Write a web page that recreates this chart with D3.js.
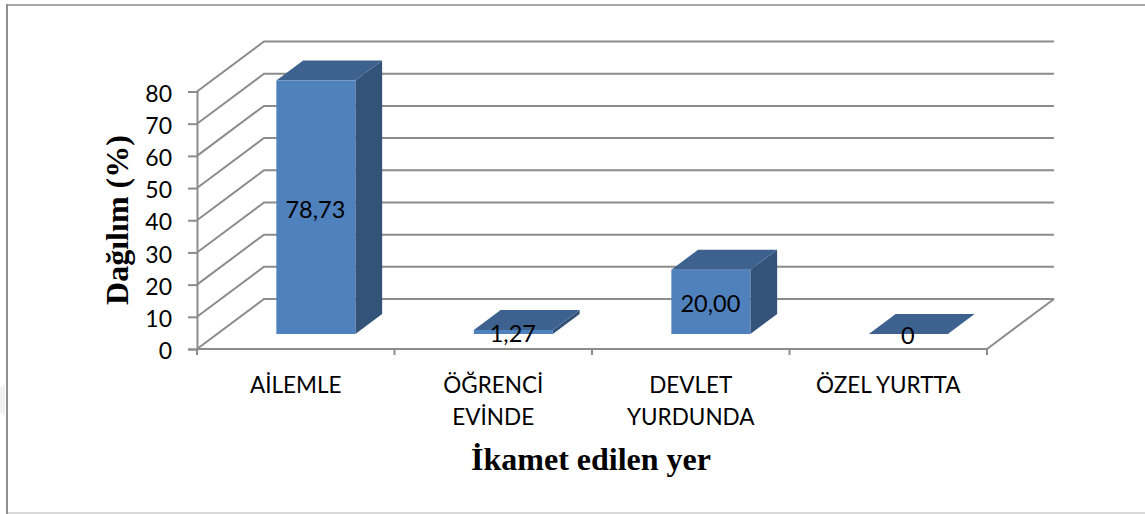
<!DOCTYPE html>
<html><head><meta charset="utf-8">
<script src="https://cdn.jsdelivr.net/npm/d3@7"></script>
<style>html,body{margin:0;padding:0;background:#fff}svg{display:block}</style>
</head><body><svg id="c" width="1145" height="514"></svg>
<script>
const categories = [["AİLEMLE"],["ÖĞRENCİ","EVİNDE"],["DEVLET","YURDUNDA"],["ÖZEL YURTTA"]];
const values = [78.73,1.27,20,0];
const valueLabels = ["78,73","1,27","20,00","0"];
const yTicks = [0,10,20,30,40,50,60,70,80];
const yTitle = "Dağılım (%)";
const xTitle = "İkamet edilen yer";

const svg = d3.select("#c");
const gray = "#8c8c8c";
const y = d3.scaleLinear().domain([0,80]).range([349,91.5]);
const x = d3.scaleBand().domain(d3.range(categories.length)).range([197,987]).paddingInner(0).paddingOuter(0);
const depthX = 67, depthY = -50;
const barW = x.bandwidth()*0.4;
const px = (cx,t)=>cx+depthX*t, py=(v,t)=>y(v)+depthY*t;

// frame: open on the right, as in the reference
svg.append("path").attr("d","M0,388L5,384L5,416L0,412Z").attr("fill","#f1f1f1");
svg.append("line").attr("x1",6).attr("x2",1145).attr("y1",5).attr("y2",5).attr("stroke","#8a8a8a").attr("stroke-width",1.5);
svg.append("line").attr("x1",7).attr("x2",7).attr("y1",4).attr("y2",514).attr("stroke","#8f8f8f").attr("stroke-width",2);
svg.append("line").attr("x1",8).attr("x2",1145).attr("y1",513).attr("y2",513).attr("stroke","#cccccc").attr("stroke-width",1.5);

// gridlines
const g = svg.append("g").attr("fill","none").attr("stroke",gray).attr("stroke-width",2);
yTicks.forEach(t=>{
  g.append("path").attr("d",d3.line()([[197,y(t)],[px(197,1),py(t,1)],[px(987,1),py(t,1)]]));
});
g.append("path").attr("d",d3.line()([[987,y(0)],[px(987,1),py(0,1)]]));

// axes
const ax = svg.append("g").attr("transform","translate(197,0)")
  .call(d3.axisLeft(y).tickValues(yTicks).tickSize(9).tickPadding(16));
ax.selectAll("path,line").attr("stroke",gray).attr("stroke-width",2);
ax.selectAll("text").attr("font-family","Lato").attr("font-size",23).attr("fill","#000").attr("dy","0.42em");
const xTickPos = d3.range(categories.length+1).map(i=>197+i*x.step());
const bx = svg.append("g");
bx.append("line").attr("x1",197).attr("x2",987).attr("y1",y(0)).attr("y2",y(0)).attr("stroke",gray).attr("stroke-width",2);
bx.selectAll("line.t").data(xTickPos).join("line").attr("class","t").attr("x1",d=>d).attr("x2",d=>d).attr("y1",y(0)).attr("y2",y(0)+6).attr("stroke",gray).attr("stroke-width",2);

// bars
const bars = svg.append("g");
values.forEach((v,i)=>{
  const x0 = x(i)+x.bandwidth()*0.3, x1 = x0+barW;
  const t0=0.3,t1=0.7;
  const P=(xx,val,t)=>[px(xx,t),py(val,t)];
  const G = bars.append("g");
  G.append("path").attr("fill","#345379").attr("d",d3.line()([P(x1,0,t0),P(x1,0,t1),P(x1,v,t1),P(x1,v,t0)])+"Z");
  G.append("path").attr("fill","#3d6290").attr("d",d3.line()([P(x0,v,t0),P(x1,v,t0),P(x1,v,t1),P(x0,v,t1)])+"Z");
  const a=P(x0,v,t0), b=P(x1,0,t0);
  G.append("rect").attr("x",a[0]).attr("y",a[1]).attr("width",b[0]-a[0]).attr("height",b[1]-a[1]).attr("fill","#4f81bd");
  G.append("text").attr("x",(a[0]+b[0])/2-0.5).attr("y",(a[1]+b[1])/2+2).attr("dy","0.36em").attr("text-anchor","middle")
    .attr("font-family","Lato").attr("font-size",23.5).attr("fill","#000").text(valueLabels[i]);
});

// category labels
categories.forEach((lines,i)=>{
  const t = svg.append("text").attr("text-anchor","middle").attr("font-family","Lato").attr("font-size",22.5).attr("fill","#000");
  lines.forEach((l,j)=>t.append("tspan").attr("x",x(i)+x.bandwidth()/2).attr("y",393+j*32).text(l));
});

// titles
svg.append("text").attr("x",591).attr("y",470).attr("text-anchor","middle").attr("font-family","Liberation Serif").attr("font-weight","bold").attr("font-size",32).attr("fill","#000").text(xTitle);
svg.append("text").attr("transform","translate(128,220) rotate(-90)").attr("text-anchor","middle").attr("font-family","Liberation Serif").attr("font-weight","bold").attr("font-size",32).attr("fill","#000").text(yTitle);
</script></body></html>
